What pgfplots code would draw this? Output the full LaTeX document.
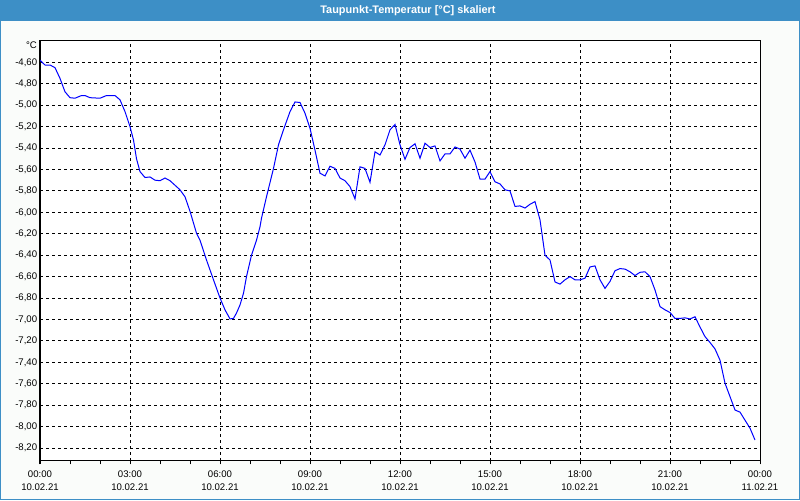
\documentclass[border=0pt]{standalone}
\usepackage{pgfplots}
\pgfplotsset{compat=1.18}
\usepackage{pgfplotstable}
\usepackage{fontspec}
\setmainfont{Liberation Sans}
\definecolor{titlec}{RGB}{61,143,198}
\definecolor{bgc}{RGB}{250,252,250}
\definecolor{curve}{RGB}{0,0,255}
\pgfplotstableread{
t v
0 -4.58
10 -4.625
20 -4.625
30 -4.65
40 -4.75
50 -4.875
60 -4.93
70 -4.935
83 -4.91
90 -4.91
100 -4.93
120 -4.935
133 -4.91
150 -4.91
160 -4.95
170 -5.06
180 -5.20
187 -5.325
193 -5.50
200 -5.62
210 -5.675
220 -5.67
230 -5.70
240 -5.705
250 -5.68
260 -5.705
273 -5.76
280 -5.79
290 -5.855
300 -5.99
313 -6.195
320 -6.26
333 -6.445
347 -6.63
360 -6.80
370 -6.91
380 -6.995
387 -6.99
393 -6.94
400 -6.865
407 -6.755
413 -6.60
423 -6.40
433 -6.26
440 -6.135
443 -6.055
453 -5.855
467 -5.59
477 -5.37
487 -5.23
500 -5.06
510 -4.97
520 -4.975
530 -5.075
540 -5.215
550 -5.42
560 -5.635
570 -5.66
580 -5.57
590 -5.59
600 -5.68
610 -5.705
620 -5.76
630 -5.875
640 -5.575
650 -5.59
660 -5.72
670 -5.435
680 -5.465
690 -5.37
700 -5.23
710 -5.18
720 -5.37
730 -5.505
740 -5.395
750 -5.36
760 -5.495
770 -5.355
780 -5.395
790 -5.38
800 -5.52
810 -5.455
820 -5.455
830 -5.39
840 -5.41
850 -5.495
860 -5.42
870 -5.53
880 -5.69
890 -5.69
900 -5.62
910 -5.715
920 -5.735
930 -5.79
940 -5.80
950 -5.945
960 -5.94
970 -5.96
980 -5.925
990 -5.90
1000 -6.07
1010 -6.40
1020 -6.445
1030 -6.65
1040 -6.67
1050 -6.63
1060 -6.60
1070 -6.63
1080 -6.63
1090 -6.615
1100 -6.51
1110 -6.50
1120 -6.63
1130 -6.71
1140 -6.645
1150 -6.545
1160 -6.525
1170 -6.53
1180 -6.555
1190 -6.59
1200 -6.56
1210 -6.555
1220 -6.60
1230 -6.725
1240 -6.88
1250 -6.91
1260 -6.935
1270 -6.99
1280 -6.99
1290 -6.985
1300 -6.995
1310 -6.975
1320 -7.07
1330 -7.16
1340 -7.215
1350 -7.275
1360 -7.38
1370 -7.595
1380 -7.72
1390 -7.845
1400 -7.865
1410 -7.94
1420 -8.015
1430 -8.125
}\dewtable
\begin{document}
\begin{tikzpicture}
\useasboundingbox (0,0) rectangle (600pt,375pt);
\fill[bgc] (0,0) rectangle (600pt,375pt);
\fill[titlec] (0,359.25pt) rectangle (600pt,375pt);
\draw[titlec, line width=0.75pt] (0.375pt,0.375pt) rectangle (599.625pt,374.625pt);
\node[text=white, font=\bfseries\fontsize{8.2}{10}\selectfont, inner sep=0pt] at (306pt,367.3pt) {Taupunkt-Temperatur [°C] skaliert};
\node[anchor=east, font=\fontsize{7.2}{8.5}\selectfont, inner sep=0pt] at (27.8pt,341.25pt) {°C};
\begin{axis}[
  at={(30pt,29.25pt)}, anchor=south west,
  scale only axis, width=540pt, height=315.5pt,
  xmin=0, xmax=1440, ymin=-8.321, ymax=-4.3947,
  axis background/.style={fill=white},
  axis line style={line width=0.75pt, black},
  xtick={0,180,360,540,720,900,1080,1260,1440},
  xticklabels={{00:00\\10.02.21},{03:00\\10.02.21},{06:00\\10.02.21},{09:00\\10.02.21},{12:00\\10.02.21},{15:00\\10.02.21},{18:00\\10.02.21},{21:00\\10.02.21},{00:00\\11.02.21}},
  minor x tick num=2,
  ytick={-8.2,-8.0,-7.8,-7.6,-7.4,-7.2,-7.0,-6.8,-6.6,-6.4,-6.2,-6.0,-5.8,-5.6,-5.4,-5.2,-5.0,-4.8,-4.6},
  yticklabel style={xshift=4pt, /pgf/number format/.cd, fixed, fixed zerofill, precision=2, use comma, assume math mode=true},
  tick label style={font=\fontsize{7.2}{9.6}\selectfont, text=black},
  xticklabel style={align=center, yshift=-1pt},
  tick align=outside,
  major tick length=2.6pt, minor tick length=2.6pt,
  xtick style={line width=0.75pt, black},
  ytick style={draw=none},
  xtick pos=bottom,
  grid=major,
  major grid style={black, line width=0.75pt, dash pattern=on 2.25pt off 2.25pt},
  minor grid style={draw=none},
  clip=true,
]
\addplot[curve, line width=0.75pt, mark=none] table[x=t,y=v] {\dewtable};
\end{axis}
\end{tikzpicture}
\end{document}
